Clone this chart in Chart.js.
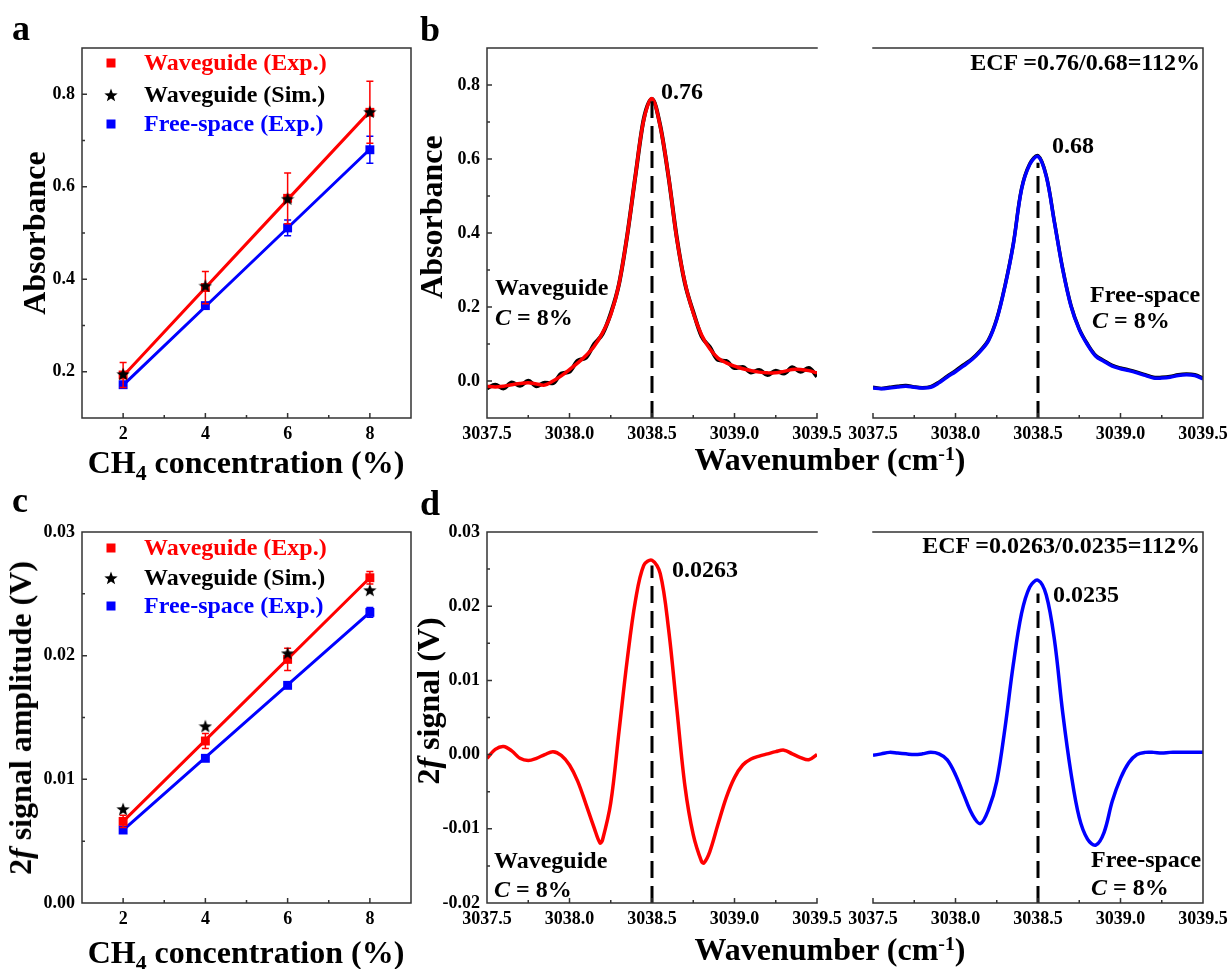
<!DOCTYPE html>
<html>
<head>
<meta charset="utf-8">
<script src="https://cdn.jsdelivr.net/npm/chart.js@4.4.1/dist/chart.umd.min.js"></script>
<style>
  html, body { margin: 0; padding: 0; background: #fff; }
  body { position: relative; width: 1231px; height: 969px; overflow: hidden;
         font-family: "Liberation Serif", "Times New Roman", serif; font-weight: bold; color: #000; }
  canvas { position: absolute; }
  .t { position: absolute; white-space: nowrap; line-height: 1; }
  .lab { font-size: 36px; }
  .ttl { font-size: 32px; }
  .ann { font-size: 24px; }
  .rot { transform: translate(-50%, -50%) rotate(-90deg); }
  .ctr { transform: translateX(-50%); }
  .sub { font-size: 0.68em; position: relative; top: 0.32em; }
  .sup { font-size: 0.62em; position: relative; top: -0.5em; }
</style>
</head>
<body>
<canvas id="pa"></canvas>
<canvas id="pbL"></canvas>
<canvas id="pbR"></canvas>
<canvas id="pc"></canvas>
<canvas id="pdL"></canvas>
<canvas id="pdR"></canvas>

<div class="t lab" style="left:12px;top:10px">a</div>
<div class="t lab" style="left:420px;top:11px">b</div>
<div class="t lab" style="left:12px;top:482px">c</div>
<div class="t lab" style="left:420px;top:485px">d</div>

<div class="t ttl rot" style="left:34px;top:233px">Absorbance</div>
<div class="t ttl ctr" style="left:246px;top:446px">CH<span class="sub">4</span> concentration (%)</div>
<div class="t ttl rot" style="left:431px;top:217px">Absorbance</div>
<div class="t ttl ctr" style="left:830px;top:443px">Wavenumber (cm<span class="sup">-1</span>)</div>
<div class="t ttl rot" style="left:20px;top:718px">2<i>f</i> signal amplitude (V)</div>
<div class="t ttl ctr" style="left:246px;top:936px">CH<span class="sub">4</span> concentration (%)</div>
<div class="t ttl rot" style="left:428px;top:701px">2<i>f</i> signal (V)</div>
<div class="t ttl ctr" style="left:830px;top:933px">Wavenumber (cm<span class="sup">-1</span>)</div>

<div class="t ann" style="left:661px;top:79px">0.76</div>
<div class="t ann" style="left:1052px;top:133px">0.68</div>
<div class="t ann" style="right:31px;top:50px">ECF =0.76/0.68=112%</div>
<div class="t ann" style="left:495px;top:275px">Waveguide</div>
<div class="t ann" style="left:495px;top:305px"><i>C</i> = 8%</div>
<div class="t ann" style="left:1090px;top:282px">Free-space</div>
<div class="t ann" style="left:1092px;top:308px"><i>C</i> = 8%</div>

<div class="t ann" style="left:672px;top:557px">0.0263</div>
<div class="t ann" style="left:1053px;top:582px">0.0235</div>
<div class="t ann" style="right:31px;top:533px">ECF =0.0263/0.0235=112%</div>
<div class="t ann" style="left:494px;top:848px">Waveguide</div>
<div class="t ann" style="left:494px;top:877px"><i>C</i> = 8%</div>
<div class="t ann" style="left:1091px;top:847px">Free-space</div>
<div class="t ann" style="left:1091px;top:875px"><i>C</i> = 8%</div>

<script>
// ---- data: concentration series (panels a, c)
const concentration = [2, 4, 6, 8];
const fitConc = [2, 8];

const absWgExp = [0.193, 0.382, 0.575, 0.761];
const absWgExpErr = [0.027, 0.035, 0.055, 0.067];
const absWgSim = [0.195, 0.386, 0.574, 0.762];
const absFsExp = [0.172, 0.343, 0.511, 0.680];
const absFsExpErr = [0.005, 0.006, 0.017, 0.029];
const absWgFit = [0.191, 0.763];
const absFsFit = [0.171, 0.681];

const sigWgExp = [0.0066, 0.0131, 0.0197, 0.0263];
const sigWgExpErr = [0.0005, 0.0006, 0.0009, 0.0005];
const sigWgSim = [0.0076, 0.0143, 0.0202, 0.0253];
const sigFsExp = [0.0059, 0.0117, 0.0176, 0.0235];
const sigFsExpErr = [0.0002, 0.0002, 0.0002, 0.0004];
const sigWgFit = [0.0066, 0.0263];
const sigFsFit = [0.0059, 0.0235];

// ---- data: spectra (panels b, d)
const wavenumber = [3037.50, 3037.55, 3037.60, 3037.65, 3037.70, 3037.75, 3037.80, 3037.85, 3037.90, 3037.95,
  3038.00, 3038.05, 3038.10, 3038.15, 3038.20, 3038.25, 3038.30, 3038.35, 3038.40, 3038.45,
  3038.50, 3038.55, 3038.60, 3038.65, 3038.70, 3038.75, 3038.80, 3038.85, 3038.90, 3038.95,
  3039.00, 3039.05, 3039.10, 3039.15, 3039.20, 3039.25, 3039.30, 3039.35, 3039.40, 3039.45, 3039.50];

const absWgMeas = [-0.020, -0.010, -0.020, -0.004, -0.013, 0.001, -0.014, -0.005, -0.006, 0.020,
  0.025, 0.055, 0.063, 0.100, 0.127, 0.183, 0.262, 0.394, 0.556, 0.708,
  0.762, 0.690, 0.552, 0.388, 0.263, 0.187, 0.121, 0.092, 0.057, 0.054,
  0.035, 0.038, 0.023, 0.030, 0.016, 0.028, 0.020, 0.037, 0.025, 0.035, 0.012];
const absWgSmooth = [-0.014, -0.016, -0.014, -0.010, -0.007, -0.005, -0.008, -0.011, 0.000, 0.014,
  0.031, 0.049, 0.069, 0.094, 0.130, 0.179, 0.262, 0.394, 0.556, 0.706,
  0.763, 0.688, 0.553, 0.386, 0.265, 0.184, 0.125, 0.087, 0.062, 0.049,
  0.040, 0.033, 0.028, 0.024, 0.022, 0.022, 0.026, 0.031, 0.031, 0.028, 0.022];
const absFsMeas = [-0.017, -0.020, -0.017, -0.014, -0.012, -0.016, -0.018, -0.015, -0.003, 0.013,
  0.028, 0.044, 0.060, 0.082, 0.111, 0.168, 0.258, 0.370, 0.519, 0.587,
  0.609, 0.555, 0.429, 0.303, 0.204, 0.141, 0.100, 0.069, 0.055, 0.042,
  0.035, 0.030, 0.024, 0.017, 0.010, 0.010, 0.012, 0.017, 0.019, 0.017, 0.008];
const absFsSmooth = [-0.019, -0.021, -0.019, -0.016, -0.014, -0.017, -0.019, -0.017, -0.005, 0.011,
  0.025, 0.041, 0.058, 0.080, 0.109, 0.166, 0.256, 0.368, 0.517, 0.585,
  0.607, 0.553, 0.427, 0.301, 0.202, 0.139, 0.098, 0.067, 0.053, 0.040,
  0.033, 0.028, 0.022, 0.015, 0.008, 0.008, 0.010, 0.015, 0.017, 0.015, 0.006];

const wnSigWg = [3037.50, 3037.55, 3037.60, 3037.65, 3037.70, 3037.75, 3037.80, 3037.85, 3037.90, 3037.95,
  3038.00, 3038.05, 3038.10, 3038.15, 3038.185, 3038.20, 3038.25, 3038.30, 3038.35, 3038.40, 3038.45,
  3038.50, 3038.55, 3038.60, 3038.65, 3038.70, 3038.75, 3038.80, 3038.815, 3038.85, 3038.90, 3038.95,
  3039.00, 3039.05, 3039.10, 3039.15, 3039.20, 3039.25, 3039.30, 3039.35, 3039.40, 3039.45, 3039.50];
const sigWg = [-0.0005, 0.0007, 0.0011, 0.0005, -0.0005, -0.0008, -0.0005, 0.0000, 0.0004, -0.0001,
  -0.0014, -0.0036, -0.0067, -0.0099, -0.0119, -0.0115, -0.0065, 0.0031, 0.0128, 0.0208, 0.0255,
  0.0262, 0.0244, 0.0170, 0.0063, -0.0043, -0.0108, -0.0144, -0.0146, -0.0131, -0.0094, -0.0058,
  -0.0031, -0.0014, -0.0006, -0.0002, 0.0001, 0.0004, 0.0006, 0.0001, -0.0004, -0.0007, 0.0000];
const sigFs = [-0.0001, 0.0001, 0.0003, 0.0002, 0.0001, 0.0000, 0.0001, 0.0003, 0.0001, -0.0007,
  -0.0027, -0.0054, -0.0080, -0.0093, -0.0074, -0.0036, 0.0036, 0.0121, 0.0190, 0.0226,
  0.0235, 0.0215, 0.0154, 0.0056, -0.0025, -0.0085, -0.0114, -0.0122, -0.0105, -0.0063,
  -0.0032, -0.0011, 0.0000, 0.0003, 0.0003, 0.0002, 0.0003, 0.0003, 0.0003, 0.0003, 0.0003];

// dashed marker at the line centre
const peakWn = [3038.5, 3038.5];
const peakLineAbsWg = [-0.1, 0.756];
const peakLineAbsFs = [-0.1, 0.590];
const peakLineSigWg = [-0.02, 0.0255];
const peakLineSigFs = [-0.02, 0.0217];

const RED = '#ff0000', BLUE = '#0000ff', BLACK = '#000000';
const FONT = 'Liberation Serif';

// ---- layout
const YW = 70, PT = 20, PR = 40, XH = 50;
const boxes = {
  pa: [82, 48, 411, 418],
  pbL: [487, 48, 817, 418],
  pbR: [873, 48, 1203, 418],
  pc: [82, 532, 411, 903],
  pdL: [487, 532, 817, 903],
  pdR: [873, 532, 1203, 903]
};

const pts = (xs, ys) => xs.map((x, i) => ({ x, y: ys[i] }));

function makeStar(size) {
  const c = document.createElement('canvas');
  c.width = c.height = size;
  const g = c.getContext('2d');
  const r = size / 2, ri = r * 0.42;
  g.beginPath();
  for (let k = 0; k < 10; k++) {
    const ang = -Math.PI / 2 + k * Math.PI / 5;
    const rr = k % 2 ? ri : r;
    g.lineTo(r + rr * Math.cos(ang), r + 0.6 + rr * Math.sin(ang));
  }
  g.closePath();
  g.fillStyle = BLACK;
  g.fill();
  return c;
}
const starImg = makeStar(14);

// frame + inward tick marks (major long, minor short)
const axesFrame = {
  id: 'axesFrame',
  afterDraw(chart, args, opts) {
    if (!opts.sides) return;
    const { ctx, chartArea: a, scales } = chart;
    const s = opts.sides;
    ctx.save();
    ctx.strokeStyle = '#333';
    ctx.lineWidth = 1.5;
    ctx.beginPath();
    if (s.includes('l')) { ctx.moveTo(a.left, a.top); ctx.lineTo(a.left, a.bottom); }
    if (s.includes('r')) { ctx.moveTo(a.right, a.top); ctx.lineTo(a.right, a.bottom); }
    if (s.includes('t')) { ctx.moveTo(a.left - 0.75, a.top); ctx.lineTo(a.right + 0.75, a.top); }
    if (s.includes('b')) { ctx.moveTo(a.left - 0.75, a.bottom); ctx.lineTo(a.right + 0.75, a.bottom); }
    const x = scales.x;
    x.ticks.forEach(t => {
      if (t.value <= x.min && s.includes('l')) return;
      if (t.value >= x.max && s.includes('r')) return;
      const px = x.getPixelForValue(t.value);
      const len = t.label ? 5 : 3;
      ctx.moveTo(px, a.bottom);
      ctx.lineTo(px, a.bottom - len);
    });
    if (opts.yTicks) {
      const y = scales.y;
      y.ticks.forEach(t => {
        if (t.value <= y.min || t.value >= y.max) return;
        const py = y.getPixelForValue(t.value);
        const len = t.label ? 5 : 3;
        ctx.moveTo(a.left, py);
        ctx.lineTo(a.left + len, py);
      });
    }
    ctx.stroke();
    ctx.restore();
  }
};

// vertical error bars with caps, drawn under each dataset's markers
const errorBars = {
  id: 'errorBars',
  beforeDatasetDraw(chart, args) {
    const ds = chart.data.datasets[args.index];
    if (!ds.errors) return;
    const { ctx } = chart;
    const y = chart.scales.y;
    ctx.save();
    ctx.strokeStyle = ds.borderColor;
    ctx.lineWidth = 1.5;
    ctx.beginPath();
    args.meta.data.forEach((pt, i) => {
      const v = ds.data[i].y, e = ds.errors[i];
      const top = y.getPixelForValue(v + e), bot = y.getPixelForValue(v - e);
      ctx.moveTo(pt.x, top); ctx.lineTo(pt.x, bot);
      ctx.moveTo(pt.x - 3.5, top); ctx.lineTo(pt.x + 3.5, top);
      ctx.moveTo(pt.x - 3.5, bot); ctx.lineTo(pt.x + 3.5, bot);
    });
    ctx.stroke();
    ctx.restore();
  }
};

// legend drawn inside the plot area
const insideLegend = {
  id: 'insideLegend',
  afterDatasetsDraw(chart, args, opts) {
    if (!opts.rows) return;
    const { ctx, chartArea: a } = chart;
    ctx.save();
    ctx.font = 'bold 24px "' + FONT + '"';
    ctx.textBaseline = 'middle';
    chart.data.datasets.forEach(d => {
      if (d.legendRow === undefined) return;
      const yy = a.top + opts.rows[d.legendRow];
      const mx = a.left + opts.markerX;
      if (d.pointStyle instanceof HTMLCanvasElement) {
        ctx.drawImage(d.pointStyle, mx - d.pointStyle.width / 2, yy - d.pointStyle.height / 2);
      } else {
        ctx.fillStyle = d.backgroundColor;
        ctx.fillRect(mx - 4.5, yy - 4.5, 9, 9);
      }
      ctx.fillStyle = d.labelColor;
      ctx.fillText(d.label, a.left + opts.textX, yy + 1);
    });
    ctx.restore();
  }
};

Chart.register(axesFrame, errorBars, insideLegend);
Chart.defaults.font.family = FONT;
Chart.defaults.color = BLACK;

function isMajor(v, major) {
  const q = v / major;
  return Math.abs(q - Math.round(q)) < 1e-6;
}

function axis(isX, min, max, step, major, digits, showLabels) {
  return {
    type: 'linear',
    position: isX ? 'bottom' : 'left',
    min, max,
    grid: { display: false, drawTicks: false },
    border: { display: false },
    ticks: {
      display: showLabels,
      stepSize: step,
      autoSkip: false,
      maxRotation: 0,
      padding: isX ? 6 : 7,
      color: BLACK,
      font: { family: FONT, size: 18, weight: 'bold' },
      callback: v => isMajor(v, major) ? v.toFixed(digits) : ''
    },
    afterFit: s => { if (isX) s.height = XH; else s.width = YW; }
  };
}

function makeChart(id, datasets, xScale, yScale, plugins) {
  const [L, T, R, B] = boxes[id];
  const cv = document.getElementById(id);
  cv.width = R - L + YW + PR;
  cv.height = B - T + PT + XH;
  cv.style.left = (L - YW) + 'px';
  cv.style.top = (T - PT) + 'px';
  return new Chart(cv, {
    type: 'scatter',
    data: { datasets },
    options: {
      responsive: false,
      animation: false,
      devicePixelRatio: 1,
      events: [],
      layout: { padding: { left: 0, top: PT, right: PR, bottom: 0 } },
      scales: { x: xScale, y: yScale },
      plugins: Object.assign({ legend: { display: false }, tooltip: { enabled: false } }, plugins)
    }
  });
}

function markerSet(label, row, color, xs, ys, errs, style, order) {
  return {
    label, legendRow: row, labelColor: color,
    data: pts(xs, ys), errors: errs,
    pointStyle: style, pointRadius: style === 'rect' ? 6.3 : 7,
    backgroundColor: color, borderColor: color, borderWidth: 0, order
  };
}
function lineSet(xs, ys, color, width, order, extra) {
  return Object.assign({
    data: pts(xs, ys), showLine: true, pointRadius: 0,
    borderColor: color, borderWidth: width,
    tension: 0.35, order
  }, extra || {});
}
const dash = { borderDash: [17, 8], tension: 0 };
const flat = { cubicInterpolationMode: 'monotone' };

// ---- panel a
makeChart('pa', [
  markerSet('Waveguide (Exp.)', 0, RED, concentration, absWgExp, absWgExpErr, 'rect', 3),
  markerSet('Waveguide (Sim.)', 1, BLACK, concentration, absWgSim, null, starImg, 1),
  markerSet('Free-space (Exp.)', 2, BLUE, concentration, absFsExp, absFsExpErr, 'rect', 4),
  lineSet(fitConc, absWgFit, RED, 3, 5),
  lineSet(fitConc, absFsFit, BLUE, 3, 6)
], axis(true, 1, 9, 1, 2, 0, true), axis(false, 0.1, 0.9, 0.1, 0.2, 1, true),
  { axesFrame: { sides: 'lrtb', yTicks: true }, insideLegend: { rows: [15, 47, 76], markerX: 29, textX: 62 } });

// ---- panel b
makeChart('pbL', [
  lineSet(peakWn, peakLineAbsWg, BLACK, 3, 1, dash),
  lineSet(wavenumber, absWgSmooth, RED, 3.5, 2),
  lineSet(wavenumber, absWgMeas, BLACK, 4, 3, flat)
], axis(true, 3037.5, 3039.5, 0.25, 0.5, 1, true), axis(false, -0.1, 0.9, 0.1, 0.2, 1, true),
  { axesFrame: { sides: 'ltb', yTicks: true } });

makeChart('pbR', [
  lineSet(peakWn, peakLineAbsFs, BLACK, 3, 1, dash),
  lineSet(wavenumber, absFsSmooth, BLUE, 3.5, 2),
  lineSet(wavenumber, absFsMeas, BLACK, 3.5, 3)
], axis(true, 3037.5, 3039.5, 0.25, 0.5, 1, true), axis(false, -0.1, 0.9, 0.1, 0.2, 1, false),
  { axesFrame: { sides: 'rtb', yTicks: false } });

// ---- panel c
makeChart('pc', [
  markerSet('Waveguide (Exp.)', 0, RED, concentration, sigWgExp, sigWgExpErr, 'rect', 3),
  markerSet('Waveguide (Sim.)', 1, BLACK, concentration, sigWgSim, null, starImg, 1),
  markerSet('Free-space (Exp.)', 2, BLUE, concentration, sigFsExp, sigFsExpErr, 'rect', 4),
  lineSet(fitConc, sigWgFit, RED, 3, 5),
  lineSet(fitConc, sigFsFit, BLUE, 3, 6)
], axis(true, 1, 9, 1, 2, 0, true), axis(false, 0, 0.03, 0.005, 0.01, 2, true),
  { axesFrame: { sides: 'lrtb', yTicks: true }, insideLegend: { rows: [16, 46, 74], markerX: 29, textX: 62 } });

// ---- panel d
makeChart('pdL', [
  lineSet(peakWn, peakLineSigWg, BLACK, 3, 1, dash),
  lineSet(wnSigWg, sigWg, RED, 3.5, 2)
], axis(true, 3037.5, 3039.5, 0.25, 0.5, 1, true), axis(false, -0.02, 0.03, 0.005, 0.01, 2, true),
  { axesFrame: { sides: 'ltb', yTicks: true } });

makeChart('pdR', [
  lineSet(peakWn, peakLineSigFs, BLACK, 3, 1, dash),
  lineSet(wavenumber, sigFs, BLUE, 3.5, 2)
], axis(true, 3037.5, 3039.5, 0.25, 0.5, 1, true), axis(false, -0.02, 0.03, 0.005, 0.01, 2, false),
  { axesFrame: { sides: 'rtb', yTicks: false } });
</script>
</body>
</html>
